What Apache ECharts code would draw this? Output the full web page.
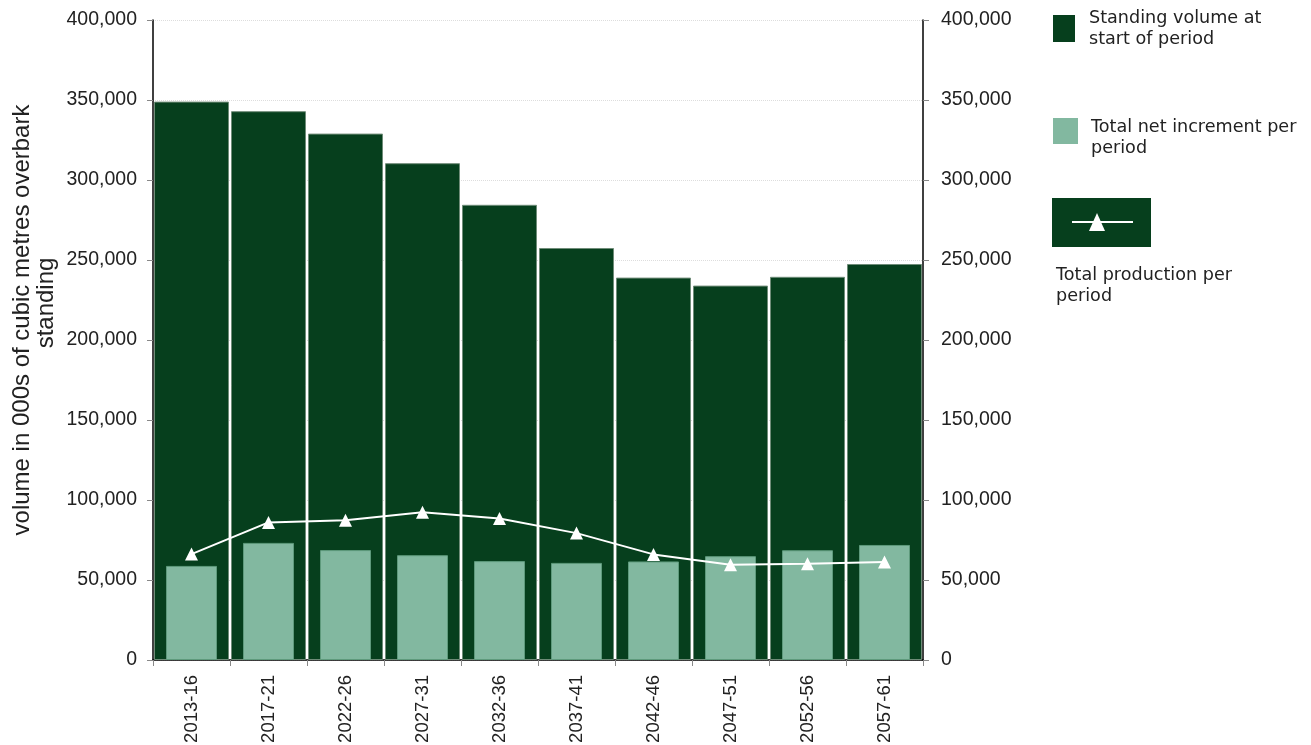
<!DOCTYPE html>
<html>
<head>
<meta charset="utf-8">
<script src="https://cdn.jsdelivr.net/npm/echarts@6/dist/echarts.min.js"></script>
<style>html,body{margin:0;padding:0;background:#fff;}#c{width:1311px;height:745px;}</style>
</head>
<body>
<div id="c"></div>
<script>
var categories = ['2013-16','2017-21','2022-26','2027-31','2032-36','2037-41','2042-46','2047-51','2052-56','2057-61'];
var standingVolume = [349000, 343000, 329000, 310500, 284500, 257500, 239000, 234000, 239500, 247500];
var netIncrement = [58800, 73200, 68700, 65500, 61800, 60700, 61600, 64900, 68600, 71900];
var totalProduction = [66200, 86000, 87300, 92300, 88400, 79300, 66000, 59600, 60200, 61200];
var yTicks = [0, 50000, 100000, 150000, 200000, 250000, 300000, 350000, 400000];
var yAxisTitleLines = ['volume in 000s of cubic metres overbark', 'standing'];

var DARK = '#063f1d';
var LIGHT = '#82b8a0';
var fmt = function (v) { return v.toLocaleString('en-US'); };

var chart = echarts.init(document.getElementById('c'));
var yAxisCommon = {
  type: 'value', min: yTicks[0], max: yTicks[yTicks.length - 1], interval: yTicks[1] - yTicks[0],
  axisLine: { show: true, lineStyle: { color: '#000', width: 1.5 } },
  axisTick: { show: true, length: 6, lineStyle: { color: '#888' } },
  axisLabel: { color: '#222', fontFamily: 'Liberation Sans', fontSize: 19.5, formatter: fmt }
};
chart.setOption({
  animation: false,
  grid: { left: 153, right: 388, top: 20, bottom: 85, containLabel: false, outerBoundsMode: 'none' },
  xAxis: [{
    type: 'category', data: categories, boundaryGap: true,
    axisLine: { show: true, lineStyle: { color: '#000', width: 1.5 } },
    axisTick: { show: true, length: 6, alignWithLabel: false, lineStyle: { color: '#888' } },
    axisLabel: { rotate: 90, color: '#222', fontFamily: 'Liberation Sans', fontSize: 18.5, margin: 15, interval: 0 },
    splitLine: { show: false }
  }, {
    type: 'category', data: categories, show: false, position: 'bottom'
  }],
  yAxis: [
    Object.assign({}, yAxisCommon, {
      position: 'left',
      axisLabel: Object.assign({}, yAxisCommon.axisLabel, { margin: 16 }),
      splitLine: { show: true, lineStyle: { color: '#ddd', type: 'dotted', width: 1 } }
    }),
    Object.assign({}, yAxisCommon, {
      position: 'right',
      axisLabel: Object.assign({}, yAxisCommon.axisLabel, { margin: 18 }),
      splitLine: { show: false }
    })
  ],
  series: [
    {
      name: 'Standing volume at start of period', type: 'bar', xAxisIndex: 0, yAxisIndex: 0,
      data: standingVolume, barWidth: 75,
      itemStyle: { color: DARK, borderColor: '#6f8c78', borderWidth: 1 }, z: 2
    },
    {
      name: 'Total net increment per period', type: 'bar', xAxisIndex: 1, yAxisIndex: 0,
      data: netIncrement, barWidth: 51,
      itemStyle: { color: LIGHT, borderColor: '#5e9a7c', borderWidth: 1 }, z: 3
    },
    {
      name: 'Total production per period', type: 'line', xAxisIndex: 0, yAxisIndex: 0,
      data: totalProduction, symbol: 'triangle', symbolSize: 13,
      lineStyle: { color: '#fff', width: 2 }, itemStyle: { color: '#fff' }, z: 5
    }
  ],
  graphic: [
    { type: 'text', x: 22, y: 320, rotation: Math.PI / 2, style: { text: yAxisTitleLines[0], fill: '#222', font: '24px "Liberation Sans"', align: 'center', verticalAlign: 'middle' } },
    { type: 'text', x: 46, y: 303, rotation: Math.PI / 2, style: { text: yAxisTitleLines[1], fill: '#222', font: '24px "Liberation Sans"', align: 'center', verticalAlign: 'middle' } },
    { type: 'rect', left: 1053, top: 15, shape: { width: 22, height: 27 }, style: { fill: DARK } },
    { type: 'text', left: 1089, top: 8, style: { text: 'Standing volume at\nstart of period', fill: '#222', font: '17.6px "DejaVu Sans"', lineHeight: 21 } },
    { type: 'rect', left: 1053, top: 118, shape: { width: 25, height: 26 }, style: { fill: LIGHT } },
    { type: 'text', left: 1091, top: 117, style: { text: 'Total net increment per\nperiod', fill: '#222', font: '17.6px "DejaVu Sans"', lineHeight: 21 } },
    { type: 'rect', left: 1052, top: 198, shape: { width: 99, height: 49 }, style: { fill: DARK } },
    { type: 'line', shape: { x1: 1072, y1: 222, x2: 1133, y2: 222 }, style: { stroke: '#fff', lineWidth: 2 } },
    { type: 'polygon', shape: { points: [[1097, 213], [1089, 231], [1105, 231]] }, style: { fill: '#fff' } },
    { type: 'text', left: 1056, top: 265, style: { text: 'Total production per\nperiod', fill: '#222', font: '17.6px "DejaVu Sans"', lineHeight: 21 } }
  ]
});
</script>
</body>
</html>
